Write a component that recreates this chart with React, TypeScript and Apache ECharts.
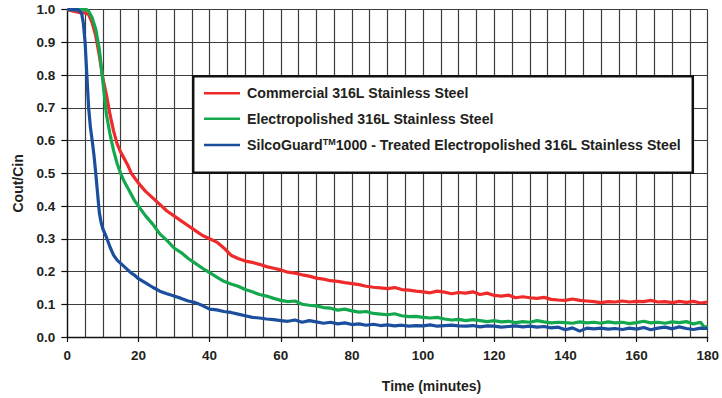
import React, { useEffect, useRef } from "react";
import * as echarts from "echarts";

const seriesNames = [
  "Commercial 316L Stainless Steel",
  "Electropolished 316L Stainless Steel",
  "SilcoGuard™1000 - Treated Electropolished 316L Stainless Steel",
];
const seriesColors = ["#ee2a2a", "#14a84e", "#1b4f9e"];

const xAxisTitle = "Time (minutes)";
const yAxisTitle = "Cout/Cin";

const commercial: [number, number][] = [
  [0, 1.0], [2, 0.995], [4, 0.99], [5, 0.99], [6, 0.985], [7, 0.96], [8, 0.92], [9, 0.86], [10, 0.79],
  [11, 0.74], [12, 0.68], [13, 0.63], [14, 0.59], [15, 0.565], [16, 0.545], [17, 0.525], [18, 0.5],
  [19, 0.485], [20, 0.47], [22, 0.445], [24, 0.425], [26, 0.405], [28, 0.385], [30, 0.37], [32, 0.355],
  [34, 0.34], [36, 0.325], [38, 0.31], [40, 0.3], [42, 0.29], [44, 0.272], [46, 0.25], [48, 0.24],
  [50, 0.232], [52, 0.228], [54, 0.222], [56, 0.215], [58, 0.21], [60, 0.205], [62, 0.198], [64, 0.195],
  [66, 0.19], [68, 0.186], [70, 0.18], [72, 0.177], [74, 0.172], [76, 0.17], [78, 0.166], [80, 0.163],
  [82, 0.16], [84, 0.155], [86, 0.152], [88, 0.15], [90, 0.148], [92, 0.151], [94, 0.145], [96, 0.143],
  [98, 0.14], [100, 0.138], [102, 0.135], [104, 0.14], [106, 0.137], [108, 0.132], [110, 0.136],
  [112, 0.134], [114, 0.138], [116, 0.13], [118, 0.134], [120, 0.127], [122, 0.125], [124, 0.128],
  [126, 0.12], [128, 0.123], [130, 0.12], [132, 0.118], [134, 0.121], [136, 0.115], [138, 0.113],
  [140, 0.112], [142, 0.116], [144, 0.112], [146, 0.11], [148, 0.108], [150, 0.105], [152, 0.108],
  [154, 0.107], [156, 0.11], [158, 0.107], [160, 0.109], [162, 0.108], [164, 0.112], [166, 0.107],
  [168, 0.108], [170, 0.105], [172, 0.109], [174, 0.106], [176, 0.109], [178, 0.104], [180, 0.107],
];

const electropolished: [number, number][] = [
  [0, 1], [2, 1], [4, 1], [5.5, 1], [6, 0.995], [7, 0.975], [8, 0.94], [9, 0.88], [10, 0.78], [11, 0.68],
  [12, 0.62], [13, 0.57], [14, 0.53], [15, 0.5], [16, 0.475], [17, 0.455], [18, 0.435], [19, 0.415],
  [20, 0.4], [22, 0.37], [24, 0.345], [26, 0.315], [28, 0.295], [30, 0.272], [32, 0.258], [34, 0.24],
  [36, 0.225], [38, 0.21], [40, 0.197], [42, 0.183], [44, 0.17], [46, 0.162], [48, 0.155], [50, 0.145],
  [52, 0.138], [54, 0.13], [56, 0.125], [58, 0.118], [60, 0.112], [62, 0.108], [64, 0.11], [66, 0.1],
  [68, 0.097], [70, 0.095], [72, 0.09], [74, 0.088], [76, 0.082], [78, 0.085], [80, 0.08], [82, 0.076],
  [84, 0.078], [86, 0.072], [88, 0.07], [90, 0.068], [92, 0.071], [94, 0.065], [96, 0.062], [98, 0.063],
  [100, 0.06], [102, 0.058], [104, 0.06], [106, 0.055], [108, 0.052], [110, 0.054], [112, 0.05],
  [114, 0.053], [116, 0.05], [118, 0.047], [120, 0.05], [122, 0.046], [124, 0.048], [126, 0.044],
  [128, 0.047], [130, 0.045], [132, 0.05], [134, 0.046], [136, 0.043], [138, 0.045], [140, 0.044],
  [142, 0.042], [144, 0.046], [146, 0.043], [148, 0.045], [150, 0.042], [152, 0.046], [154, 0.043],
  [156, 0.045], [158, 0.041], [160, 0.044], [162, 0.048], [164, 0.043], [166, 0.045], [168, 0.042],
  [170, 0.046], [172, 0.044], [174, 0.047], [176, 0.04], [178, 0.045], [179, 0.03], [180, 0.032],
];

const silcoGuard: [number, number][] = [
  [0, 1], [2, 1], [3, 1], [4, 0.99], [4.5, 0.96], [5, 0.9], [5.5, 0.8], [6, 0.7], [6.5, 0.64], [7, 0.6],
  [7.5, 0.555], [8, 0.5], [8.5, 0.44], [9, 0.38], [9.5, 0.35], [10, 0.33], [11, 0.305], [12, 0.275],
  [13, 0.25], [14, 0.235], [15, 0.225], [16, 0.215], [17, 0.205], [18, 0.195], [19, 0.188], [20, 0.178],
  [22, 0.165], [24, 0.152], [26, 0.14], [28, 0.132], [30, 0.125], [32, 0.118], [34, 0.11], [36, 0.105],
  [38, 0.096], [40, 0.085], [42, 0.083], [44, 0.078], [46, 0.075], [48, 0.07], [50, 0.065], [52, 0.06],
  [54, 0.058], [56, 0.055], [58, 0.053], [60, 0.05], [62, 0.048], [64, 0.052], [66, 0.045], [68, 0.05],
  [70, 0.046], [72, 0.042], [74, 0.045], [76, 0.04], [78, 0.043], [80, 0.038], [82, 0.04], [84, 0.036],
  [86, 0.039], [88, 0.035], [90, 0.037], [92, 0.034], [94, 0.036], [96, 0.033], [98, 0.035], [100, 0.034],
  [102, 0.037], [104, 0.033], [106, 0.035], [108, 0.036], [110, 0.034], [112, 0.033], [114, 0.035],
  [116, 0.031], [118, 0.034], [120, 0.033], [122, 0.03], [124, 0.032], [126, 0.034], [128, 0.031],
  [130, 0.033], [132, 0.03], [134, 0.032], [136, 0.028], [138, 0.03], [140, 0.022], [142, 0.028],
  [144, 0.018], [146, 0.027], [148, 0.025], [150, 0.027], [152, 0.024], [154, 0.026], [156, 0.023],
  [158, 0.027], [160, 0.024], [162, 0.029], [164, 0.022], [166, 0.027], [168, 0.03], [170, 0.025],
  [172, 0.031], [174, 0.026], [176, 0.023], [178, 0.027], [180, 0.026],
];

const seriesData = [commercial, electropolished, silcoGuard];

const FONT = '"Liberation Sans", Arial, Helvetica, sans-serif';
const TEXT = "#231f20";
const GRID = "#3c3c3c";

export default function App() {
  const ref = useRef<HTMLDivElement>(null);

  useEffect(() => {
    document.body.style.margin = "0";
    if (!ref.current) return;
    const chart = echarts.init(ref.current, undefined, { renderer: "svg" });

    const legendFormatter = (name: string) => {
      const idx = name.indexOf("™");
      if (idx >= 0) {
        return `{a|${name.slice(0, idx)}}{sup|TM}{a|${name.slice(idx + 1)}}`;
      }
      return `{a|${name}}`;
    };

    chart.setOption({
      animation: false,
      backgroundColor: "#ffffff",
      grid: { left: 67.3, right: 11.2, top: 9.7, bottom: 58.3, containLabel: false },
      xAxis: {
        type: "value",
        min: 0,
        max: 180,
        interval: 20,
        name: xAxisTitle,
        nameLocation: "middle",
        nameGap: 42,
        nameTextStyle: {
          fontFamily: FONT,
          fontWeight: "bold",
          fontSize: 14,
          color: TEXT,
          padding: [0, 0, 0, 88],
        },
        axisLine: { show: true, lineStyle: { color: "#111", width: 1.3 } },
        axisTick: { show: true, inside: false, length: 5, lineStyle: { color: "#111", width: 1.2 } },
        axisLabel: {
          margin: 11,
          fontFamily: FONT,
          fontWeight: "bold",
          fontSize: 13.5,
          color: TEXT,
        },
        splitLine: { show: true, lineStyle: { color: GRID, width: 1.2 } },
        minorTick: { show: false, splitNumber: 4 },
        minorSplitLine: { show: true, lineStyle: { color: GRID, width: 1.2 } },
      },
      yAxis: {
        type: "value",
        min: 0,
        max: 1,
        interval: 0.1,
        name: yAxisTitle,
        nameLocation: "middle",
        nameGap: 42,
        nameRotate: 90,
        nameTextStyle: {
          fontFamily: FONT,
          fontWeight: "bold",
          fontSize: 14,
          color: TEXT,
          padding: [0, 20, 0, 0],
        },
        axisLine: { show: true, lineStyle: { color: "#111", width: 1.3 } },
        axisTick: { show: true, inside: false, length: 6, lineStyle: { color: "#111", width: 1.2 } },
        axisLabel: {
          margin: 12,
          fontFamily: FONT,
          fontWeight: "bold",
          fontSize: 13.5,
          color: TEXT,
          formatter: (v: number) => v.toFixed(1),
        },
        splitLine: { show: true, lineStyle: { color: GRID, width: 1.2 } },
      },
      graphic: [
        {
          type: "rect",
          z: 5,
          shape: { x: 193.2, y: 76.2, width: 499.6, height: 96.6 },
          style: { fill: "#ffffff", stroke: "#111111", lineWidth: 2.5 },
        },
      ],
      legend: {
        z: 10,
        orient: "vertical",
        left: 204,
        top: 86.3,
        padding: 0,
        itemGap: 11.4,
        itemWidth: 36,
        itemHeight: 2.5,
        icon: "rect",
        selectedMode: false,
        data: seriesNames,
        formatter: legendFormatter,
        textStyle: {
          fontFamily: FONT,
          color: TEXT,
          padding: [0, 0, 0, 2],
          rich: {
            a: { fontFamily: FONT, fontWeight: "bold", fontSize: 14.2, color: TEXT, lineHeight: 16 },
            sup: {
              fontFamily: FONT,
              fontWeight: "bold",
              fontSize: 9,
              color: TEXT,
              lineHeight: 9,
              verticalAlign: "top",
            },
          },
        },
      },
      series: seriesNames.map((name, i) => ({
        name,
        type: "line",
        data: seriesData[i],
        showSymbol: false,
        symbol: "none",
        smooth: false,
        z: 2,
        lineStyle: { color: seriesColors[i], width: 3.2 },
        itemStyle: { color: seriesColors[i] },
      })),
    });

    return () => chart.dispose();
  }, []);

  return <div ref={ref} style={{ width: 722, height: 398 }} />;
}
